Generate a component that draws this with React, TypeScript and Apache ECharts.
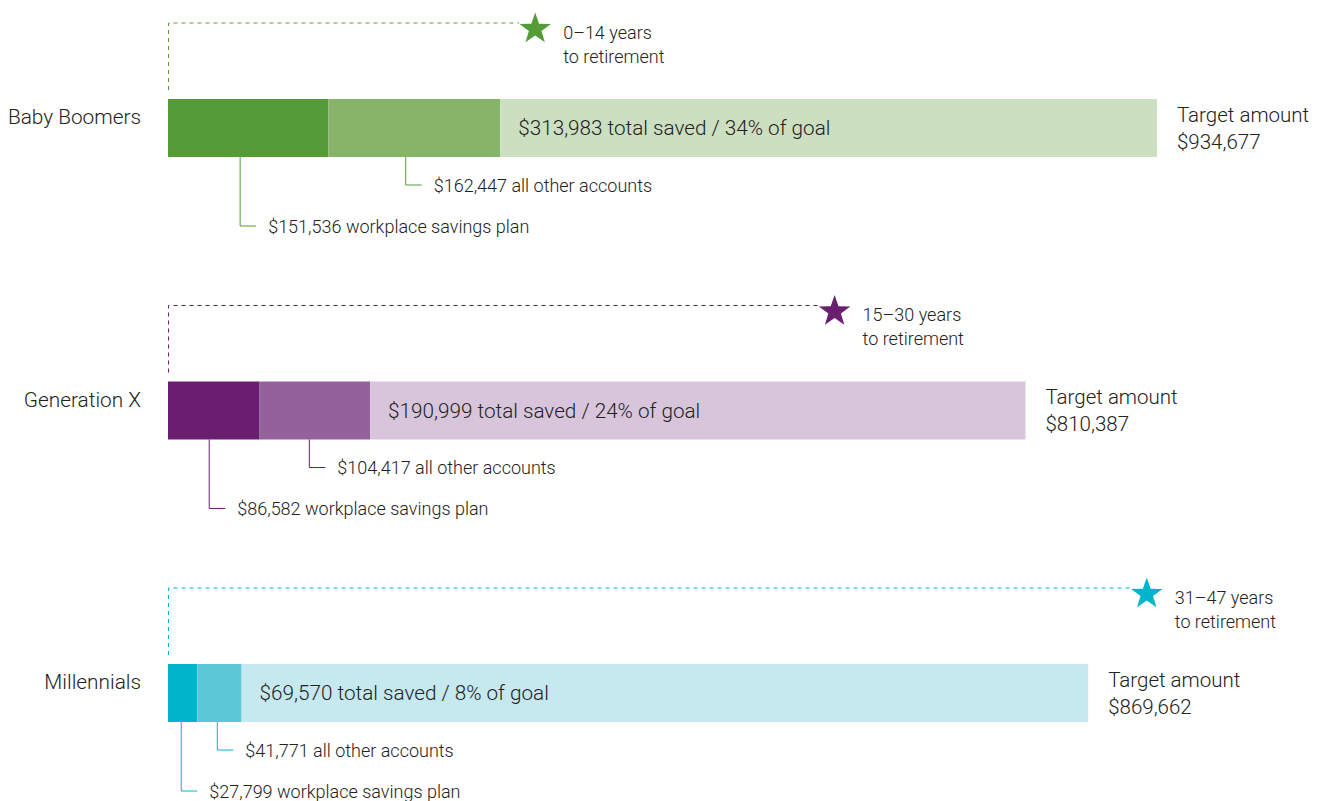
import React, { useEffect, useRef } from "react";
import * as echarts from "echarts";

const categories = ["Baby Boomers", "Generation X", "Millennials"];
const workplace = [151536, 86582, 27799];
const otherAccounts = [162447, 104417, 41771];
const targetAmount = [934677, 810387, 869662];
const retirementYears = ["0–14", "15–30", "31–47"];
const retirementMarker = [347000, 630000, 925000];

const darkColors = ["#559C38", "#6A1E70", "#00B5CB"];
const midColors = ["#88B46A", "#94619C", "#5BC8D8"];
const lightColors = ["#CCDFC0", "#D9C5DB", "#C6E8EF"];

const FONT = "Roboto";
const TEXT = "#222222";
const fmt = (n: number) => "$" + n.toLocaleString("en-US");

function starPoints(cx: number, cy: number, R: number, r: number) {
  const pts: number[][] = [];
  for (let k = 0; k < 10; k++) {
    const ang = -Math.PI / 2 + (k * Math.PI) / 5;
    const rad = k % 2 === 0 ? R : r;
    pts.push([cx + rad * Math.cos(ang), cy + rad * Math.sin(ang)]);
  }
  return pts;
}

export default function App() {
  const ref = useRef<HTMLDivElement>(null);
  useEffect(() => {
    if (!ref.current) return;
    const chart = echarts.init(ref.current, null, { renderer: "svg" });
    const totals = workplace.map((w, i) => w + otherAccounts[i]);
    const remaining = targetAmount.map((t, i) => t - totals[i]);

    const renderItem = (params: any, api: any) => {
      const i = params.dataIndex;
      const base = api.coord([0, i]);
      const x0 = base[0];
      const y = base[1];
      const col = darkColors[i];
      const xw = api.coord([workplace[i] * 0.45, i])[0];
      const xo = api.coord([workplace[i] + otherAccounts[i] * 0.45, i])[0];
      const xEnd = api.coord([targetAmount[i], i])[0];
      const xStar = api.coord([retirementMarker[i], i])[0];
      const dashY = y - 105;
      const children: any[] = [
        {
          type: "polyline",
          shape: { points: [[x0 + 0.5, y - 38], [x0 + 0.5, dashY], [xStar - 16, dashY]] },
          style: { stroke: col, lineWidth: 1, lineDash: [4, 4], fill: null },
        },
        {
          type: "polygon",
          shape: { points: starPoints(xStar, dashY + 6, 16.5, 6.6) },
          style: { fill: col },
        },
        {
          type: "text",
          x: xStar + 28,
          y: dashY - 3,
          style: {
            text: retirementYears[i] + " years\nto retirement",
            fill: TEXT,
            font: `300 18px ${FONT}`,
            lineHeight: 24,
            verticalAlign: "top",
            align: "left",
          },
        },
        {
          type: "polyline",
          shape: { points: [[xw, y + 29], [xw, y + 98], [xw + 16, y + 98]] },
          style: { stroke: col, lineWidth: 1, fill: null },
        },
        {
          type: "text",
          x: xw + 28,
          y: y + 98,
          style: {
            text: fmt(workplace[i]) + " workplace savings plan",
            fill: TEXT,
            font: `300 18px ${FONT}`,
            verticalAlign: "middle",
            align: "left",
          },
        },
        {
          type: "polyline",
          shape: { points: [[xo, y + 29], [xo, y + 57], [xo + 16, y + 57]] },
          style: { stroke: col, lineWidth: 1, fill: null },
        },
        {
          type: "text",
          x: xo + 28,
          y: y + 57,
          style: {
            text: fmt(otherAccounts[i]) + " all other accounts",
            fill: TEXT,
            font: `300 18px ${FONT}`,
            verticalAlign: "middle",
            align: "left",
          },
        },
        {
          type: "text",
          x: xEnd + 20,
          y: y,
          style: {
            text: "Target amount\n" + fmt(targetAmount[i]),
            fill: TEXT,
            font: `300 20.5px ${FONT}`,
            lineHeight: 27,
            verticalAlign: "middle",
            align: "left",
          },
        },
      ];
      return { type: "group", children };
    };

    chart.setOption({
      animation: false,
      grid: { left: 168, top: 128, width: 989, height: 565 },
      xAxis: {
        type: "value",
        min: 0,
        max: Math.max(...targetAmount),
        show: false,
      },
      yAxis: {
        type: "category",
        data: categories,
        inverse: true,
        boundaryGap: false,
        axisLine: { show: false },
        axisTick: { show: false },
        splitLine: { show: false },
        axisLabel: {
          margin: 27,
          fontSize: 20.8,
          fontFamily: FONT,
          fontWeight: 300,
          color: TEXT,
          verticalAlign: "bottom",
          lineHeight: 22,
        },
      },
      series: [
        {
          type: "bar",
          stack: "s",
          barWidth: 58,
          data: workplace.map((v, i) => ({ value: v, itemStyle: { color: darkColors[i] } })),
        },
        {
          type: "bar",
          stack: "s",
          barWidth: 58,
          data: otherAccounts.map((v, i) => ({ value: v, itemStyle: { color: midColors[i] } })),
        },
        {
          type: "bar",
          stack: "s",
          barWidth: 58,
          data: remaining.map((v, i) => ({ value: v, itemStyle: { color: lightColors[i] } })),
          label: {
            show: true,
            position: "insideLeft",
            distance: 18,
            fontFamily: FONT,
            fontWeight: 300,
            fontSize: 20.7,
            color: TEXT,
            formatter: (p: any) =>
              fmt(totals[p.dataIndex]) +
              " total saved / " +
              Math.round((totals[p.dataIndex] / targetAmount[p.dataIndex]) * 100) +
              "% of goal",
          },
        },
        {
          type: "custom",
          coordinateSystem: "cartesian2d",
          silent: true,
          z: 10,
          encode: { x: 0, y: 1 },
          data: categories.map((_, i) => [0, i]),
          renderItem,
        },
      ],
    });
    return () => chart.dispose();
  }, []);
  return (
    <div
      ref={ref}
      style={{ position: "absolute", left: 0, top: 0, width: 1326, height: 801, background: "#fff" }}
    />
  );
}
